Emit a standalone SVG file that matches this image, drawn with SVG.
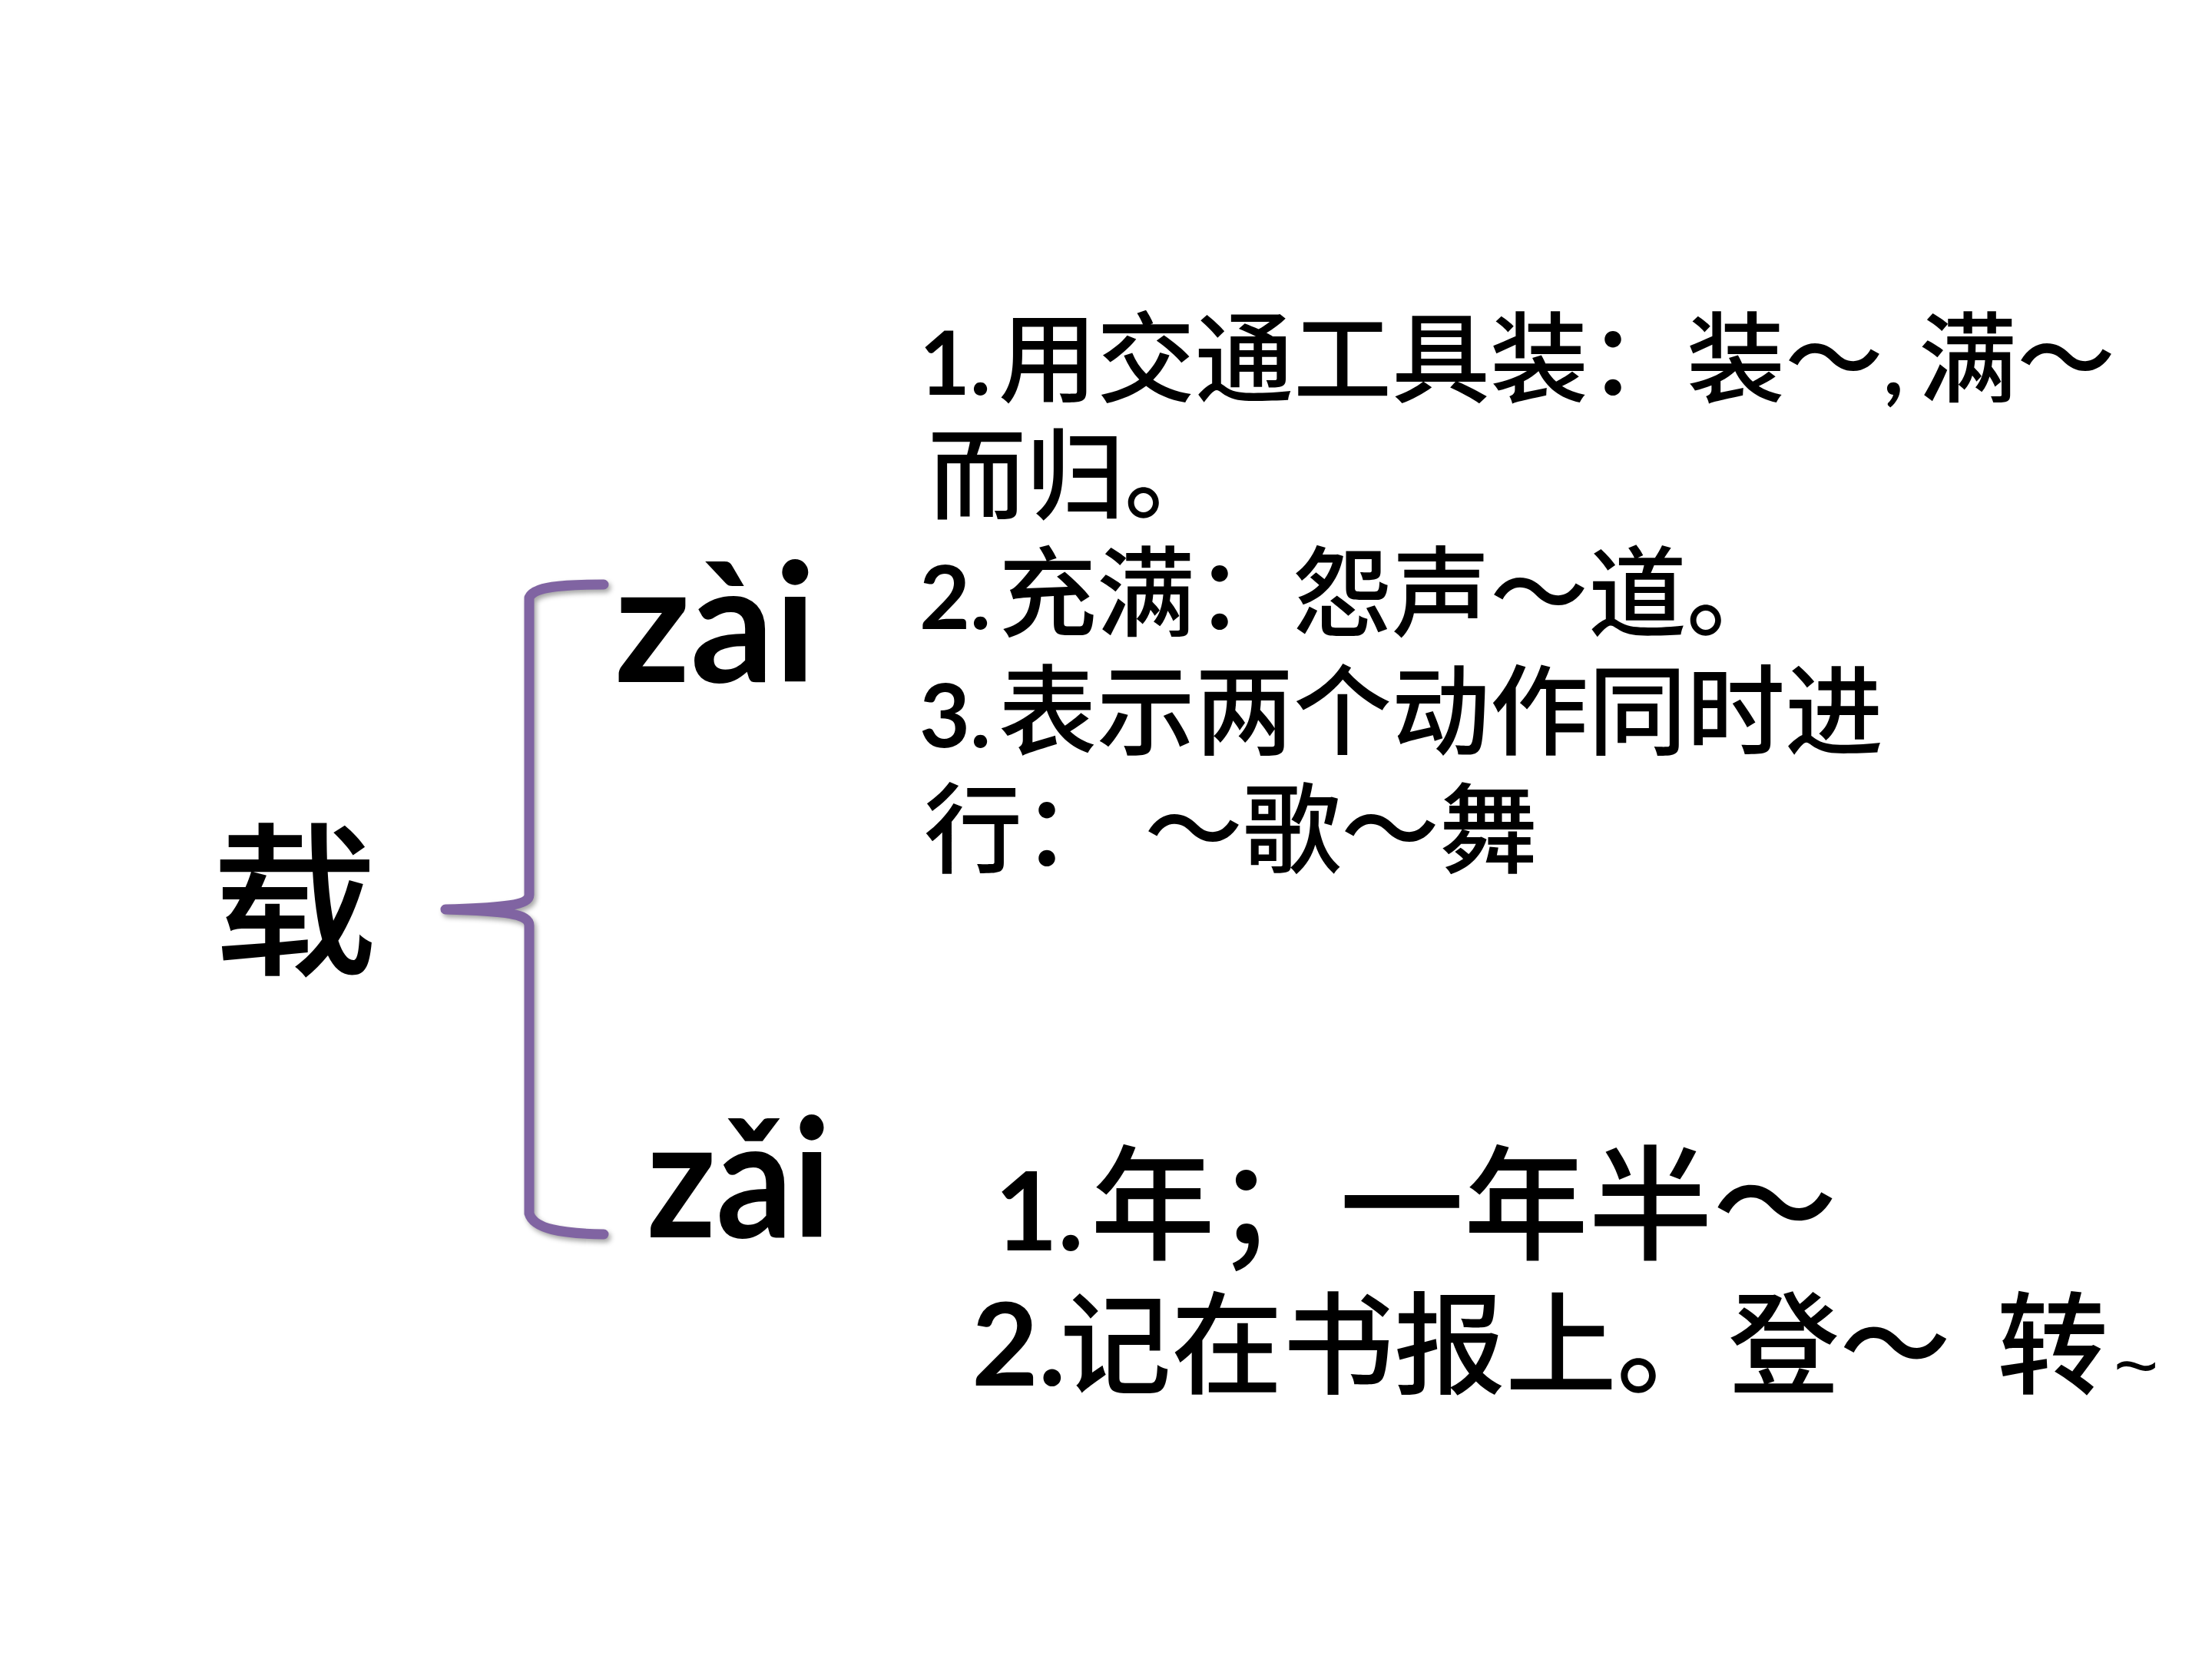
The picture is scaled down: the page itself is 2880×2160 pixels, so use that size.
<svg xmlns="http://www.w3.org/2000/svg" width="2880" height="2160" viewBox="0 0 2880 2160">
<defs>
<style>
.cjk{font-family:"Noto Sans CJK SC","Noto Sans CJK TC",sans-serif;font-weight:500;fill:#000}
.num{font-family:Lato,"Liberation Sans",sans-serif;font-weight:bold;fill:#000}
.py{font-family:Lato,"Open Sans","DejaVu Sans",sans-serif;font-weight:bold;fill:#000;font-size:215px}
.brace{fill:none;stroke:#8064A2;stroke-width:13;stroke-linecap:round;stroke-linejoin:round}
.brace-shadow{fill:none;stroke:#000;stroke-opacity:0.35;stroke-width:13;stroke-linecap:round;stroke-linejoin:round}
</style>
<filter id="blur" x="-20%" y="-5%" width="140%" height="110%"><feGaussianBlur stdDeviation="3"/></filter>
</defs>
<rect x="0" y="0" width="2880" height="2160" fill="#fff"/>

<g id="connectors">
<path class="brace-shadow" filter="url(#blur)" transform="translate(3,4)" d="M 786 761 C 730 761 695 764 689 778 L 689 1165 C 689 1178 660 1182 580 1184 C 660 1186 689 1190 689 1205 L 689 1580 C 695 1600 730 1606 786 1607"/>
<path class="brace" d="M 786 761 C 730 761 695 764 689 778 L 689 1165 C 689 1178 660 1182 580 1184 C 660 1186 689 1190 689 1205 L 689 1580 C 695 1600 730 1606 786 1607"/>
</g>

<g id="node-root">
<text class="cjk" x="276" y="1253" font-size="215">载</text>
</g>

<g id="node-zai4">
<text class="py" x="800" y="888">zài</text>
</g>

<g id="node-zai3">
<text class="py" x="842" y="1611" textLength="240" lengthAdjust="spacingAndGlyphs">zǎi</text>
</g>

<g id="meanings-zai4">
<text y="514"><tspan class="num" x="1197" font-size="114">1.</tspan><tspan class="cjk" x="1300" font-size="128">用交通工具装：装～</tspan><tspan class="num" font-size="114">,</tspan><tspan class="cjk" x="2498" font-size="128">满～</tspan></text>
<text class="cjk" x="1208" y="666" font-size="128">而归。</text>
<text y="819"><tspan class="num" x="1197" font-size="114">2.</tspan><tspan class="cjk" x="1300" font-size="128">充满：怨声～道。</tspan></text>
<text y="973"><tspan class="num" x="1197" font-size="114">3.</tspan><tspan class="cjk" x="1300" font-size="128">表示两个动作同时进</tspan></text>
<text class="cjk" y="1127" font-size="128"><tspan x="1203">行：</tspan><tspan x="1490">～歌～舞</tspan></text>
</g>

<g id="meanings-zai3">
<text y="1628"><tspan class="num" x="1295" font-size="142">1.</tspan><tspan class="cjk" x="1420" font-size="162">年；一年半～</tspan></text>
<text y="1804"><tspan class="num" x="1265" font-size="150">2.</tspan><tspan class="cjk" x="1380" font-size="145">记在书报上。登～</tspan><tspan class="cjk" x="2600" font-size="145">转</tspan><tspan x="2752" y="1812" font-family="Liberation Sans, sans-serif" font-size="100">~</tspan></text>
</g>
</svg>
